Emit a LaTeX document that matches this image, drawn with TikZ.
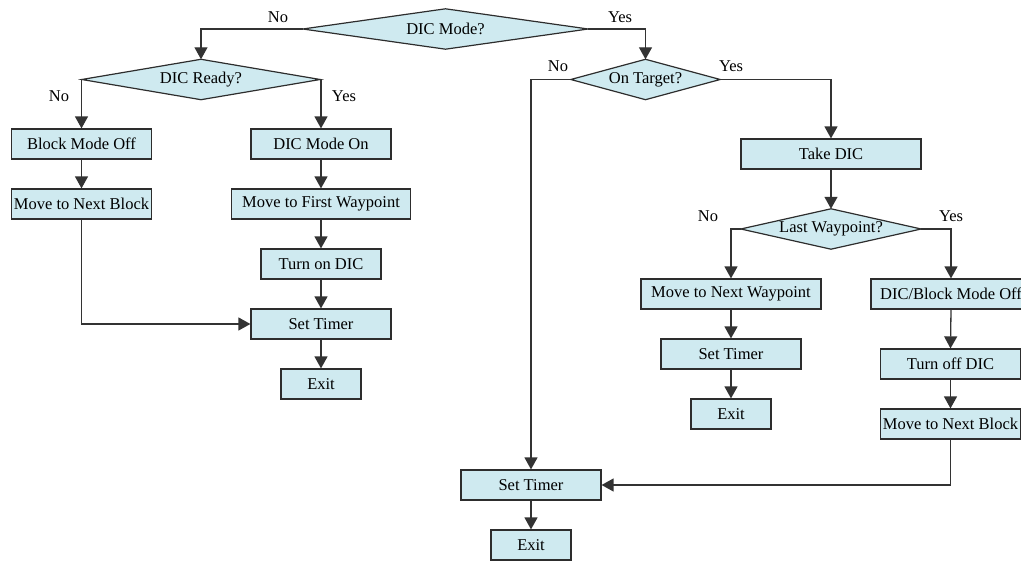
\documentclass[tikz,border=0pt]{standalone}
\usepackage{fontspec}
\setmainfont{Liberation Serif}
\newfontfamily\timesfont{Liberation Serif}
\usetikzlibrary{arrows.meta,backgrounds}
\definecolor{boxfill}{RGB}{207,234,240}
\definecolor{boxline}{RGB}{45,45,45}
\begin{document}
\begin{tikzpicture}[x=1pt,y=-1pt,
  font=\timesfont\fontsize{16.5}{19}\selectfont,
  box/.style={draw=boxline,fill=boxfill,line width=1.2pt,inner sep=0pt,minimum height=30pt,minimum width=#1},
  box/.default=140pt,
  dec/.style={inner sep=0pt,minimum width=#1,minimum height=40pt},
  lbl/.style={inner sep=0pt,anchor=base},
  conn/.style={line width=1.3pt,draw=black!80,-{Triangle[length=12pt,width=13pt]}},
  diashape/.style={draw=boxline,fill=boxfill,line width=1.2pt}]
\useasboundingbox (0,0) rectangle (1021,561);
\clip (0,0) rectangle (1021,561);

% decisions
\node[dec=285pt] (d1) at (445.5,29) {DIC Mode?};
\node[dec=238pt] (d2) at (201,79.5) {DIC Ready?};
\node[dec=149pt] (d3) at (645.5,79.5) {On Target?};
\node[dec=180pt] (d4) at (831,229) {Last Waypoint?};
\begin{scope}[on background layer]
  \foreach \d in {d1,d2,d3,d4}
    \path[diashape] (\d.west) -- (\d.north) -- (\d.east) -- (\d.south) -- cycle;
\end{scope}

% left branch
\node[box] (b1) at (81.5,144) {Block Mode Off};
\node[box] (b2) at (81.5,204) {Move to Next Block};
\node[box] (b3) at (321,144) {DIC Mode On};
\node[box=179pt] (b4) at (321,204) {Move to First Waypoint};
\node[box=120pt] (b5) at (321,264) {Turn on DIC};
\node[box] (b6) at (321,324) {Set Timer};
\node[box=80pt] (b7) at (321,384) {Exit};

% right branch
\node[box=180pt] (b8) at (831,154) {Take DIC};
\node[box=180pt] (b9) at (731,294) {Move to Next Waypoint};
\node[box] (b10) at (731,354) {Set Timer};
\node[box=80pt] (b11) at (731,414) {Exit};
\node[box=160pt] (b12) at (951,294) {DIC/Block Mode Off};
\node[box] (b13) at (950.5,364) {Turn off DIC};
\node[box] (b14) at (950.5,424) {Move to Next Block};
\node[box] (b15) at (531,485) {Set Timer};
\node[box=80pt] (b16) at (531,545) {Exit};

% labels
\node[lbl] (l1) at (278,23) {No};
\node[lbl] (l2) at (620,23) {Yes};
\node[lbl] (l3) at (59,102) {No};
\node[lbl] (l4) at (344,102) {Yes};
\node[lbl] (l5) at (558,72) {No};
\node[lbl] (l6) at (731,72) {Yes};
\node[lbl] (l7) at (708,222) {No};
\node[lbl] (l8) at (951,222) {Yes};

% connectors
\draw[conn] (d1.west) -| (d2.north);
\draw[conn] (d1.east) -| (d3.north);
\draw[conn] (d2.west) -| (b1.north);
\draw[conn] (d2.east) -| (b3.north);
\draw[conn] (b1) -- (b2);
\draw[conn] (b3) -- (b4);
\draw[conn] (b4) -- (b5);
\draw[conn] (b5) -- (b6);
\draw[conn] (b6) -- (b7);
\draw[conn] (b2.south) |- (b6.west);
\draw[conn] (d3.west) -| (b15.north);
\draw[conn] (d3.east) -| (b8.north);
\draw[conn] (b8) -- (d4.north);
\draw[conn] (d4.west) -| (b9.north);
\draw[conn] (d4.east) -| (b12.north);
\draw[conn] (b9) -- (b10);
\draw[conn] (b10) -- (b11);
\draw[conn] (b12.south) -- (b13.north);
\draw[conn] (b13) -- (b14);
\draw[conn] (b14.south) |- (b15.east);
\draw[conn] (b15) -- (b16);
\end{tikzpicture}
\end{document}
